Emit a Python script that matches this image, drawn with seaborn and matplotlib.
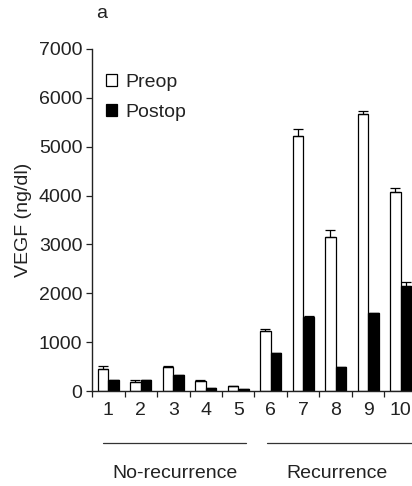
import matplotlib
matplotlib.use("Agg")
import matplotlib.pyplot as plt
import seaborn as sns
import pandas as pd
import numpy as np
from matplotlib.patches import Patch

cases = ["1", "2", "3", "4", "5", "6", "7", "8", "9", "10"]
preop = [460, 185, 485, 210, 100, 1225, 5220, 3160, 5660, 4080]
preop_err = [45, 30, 20, 20, 10, 35, 150, 140, 70, 75]
postop = [220, 220, 320, 60, 35, 775, 1510, 490, 1590, 2145]
postop_err = [0, 0, 0, 0, 0, 0, 20, 0, 0, 95]
groups = ["No-recurrence", "Recurrence"]
series = ["Preop", "Postop"]

sns.set_style("ticks")
plt.rcParams["font.family"] = ["Liberation Sans", "DejaVu Sans"]

df = pd.DataFrame({
    "case": cases * 2,
    "period": [series[0]] * len(cases) + [series[1]] * len(cases),
    "value": preop + postop,
})

fs = 14
txt = "#222222"
fig = plt.figure(figsize=(4.12, 4.86), dpi=100)
ax = fig.add_axes([92 / 412, 95 / 486, 325 / 412, 342 / 486])

sns.barplot(data=df, x="case", y="value", hue="period", order=cases,
            hue_order=series, palette=["white", "black"], edgecolor="black",
            linewidth=0.9, width=0.65, gap=0, errorbar=None, ax=ax, legend=False)

# error bars (upward only)
n = len(cases)
patches = ax.patches[:2 * n]
for i, (vals, errs) in enumerate([(preop, preop_err), (postop, postop_err)]):
    xs = [p.get_x() + p.get_width() / 2 for p in patches[i * n:(i + 1) * n]]
    ax.errorbar(xs, vals, yerr=[np.zeros(n), errs], fmt="none", ecolor="black",
                elinewidth=0.9, capsize=3.5, capthick=0.9, zorder=5)

ax.set_ylim(0, 7000)
ax.set_xlim(-0.5, 9.5)
ax.set_yticks(range(0, 7001, 1000))
ax.tick_params(axis="y", labelsize=fs, length=4, width=0.9, color=txt,
               labelcolor=txt, pad=3)
ax.set_xticks(range(n))
ax.set_xticklabels(cases)
ax.set_xticks(np.arange(-0.5, n, 1.0), minor=True)
ax.tick_params(axis="x", which="major", length=0, labelsize=fs, pad=8,
               labelcolor=txt)
ax.tick_params(axis="x", which="minor", length=4, width=0.9, color=txt)
ax.set_xlabel("")
ax.set_ylabel("VEGF (ng/dl)", fontsize=fs, labelpad=5, color=txt)
sns.despine(ax=ax)
for s in ["left", "bottom"]:
    ax.spines[s].set_linewidth(1.0)
    ax.spines[s].set_color(txt)

# group lines and labels
trans = ax.get_xaxis_transform()
ax.plot([-0.17, 4.24], [-0.152, -0.152], color="#333333", lw=0.9,
        transform=trans, clip_on=False)
ax.plot([4.875, 9.4], [-0.152, -0.152], color="#333333", lw=0.9,
        transform=trans, clip_on=False)
ax.text(2.05, -0.24, groups[0], transform=trans, ha="center", va="center",
        fontsize=fs, color=txt)
ax.text(7.04, -0.24, groups[1], transform=trans, ha="center", va="center",
        fontsize=fs, color=txt)

handles = [Patch(facecolor="white", edgecolor="black", linewidth=0.9),
           Patch(facecolor="black", edgecolor="black", linewidth=0.9)]
ax.legend(handles, series, loc="upper left", bbox_to_anchor=(0.018, 0.95),
          frameon=False, fontsize=fs, handlelength=0.6, handleheight=0.6,
          handletextpad=0.4, labelspacing=0.65, borderaxespad=0,
          labelcolor=txt)

fig.text(102 / 412, 1 - 13 / 486, "a", fontsize=fs, ha="center", va="center",
         color=txt)

fig.savefig("out.png", dpi=100)
